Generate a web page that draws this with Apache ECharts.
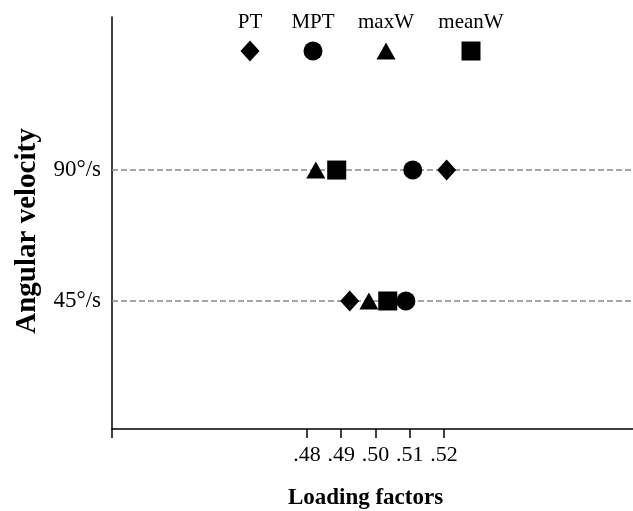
<!DOCTYPE html>
<html>
<head>
<meta charset="utf-8">
<script src="https://cdn.jsdelivr.net/npm/echarts@6/dist/echarts.min.js"></script>
<style>html,body{margin:0;padding:0;background:#fff}#c{width:633px;height:511px}</style>
</head>
<body>
<div id="c"></div>
<script>
var seriesNames = ['PT', 'MPT', 'maxW', 'meanW'];
var seriesSymbols = ['diamond', 'circle', 'triangle', 'rect'];
var velocities = [90, 45];
var velocityLabels = ['90°/s', '45°/s'];
var xTickValues = [0.48, 0.49, 0.50, 0.51, 0.52];
// loading factors at [90°/s, 45°/s]
var valsPT = [0.5208, 0.4925];
var valsMPT = [0.5109, 0.5089];
var valsMaxW = [0.4826, 0.4981];
var valsMeanW = [0.4887, 0.5036];
var allVals = [valsPT, valsMPT, valsMaxW, valsMeanW];

var FONT = 'Liberation Serif';
var xMin = 0.4231, xMax = 0.5752;
var legendCenters = [250, 313, 386, 471];
var symbolSizes = [[19, 21], 19, [19, 17], 19];

var series = seriesNames.map(function (n, i) {
  var s = {
    name: n, type: 'scatter', symbol: seriesSymbols[i], symbolSize: symbolSizes[i],
    itemStyle: { color: '#000', opacity: 1 },
    data: allVals[i].map(function (v, j) { return [v, velocities[j]]; }),
    z: 5
  };
  if (i === 0) {
    s.markLine = {
      silent: true, symbol: 'none', label: { show: false },
      lineStyle: { color: '#888', type: [6, 3], width: 1.5 },
      data: velocities.map(function (v) { return { yAxis: v }; }),
      z: 1
    };
  }
  return s;
});

var legends = seriesNames.map(function (n, i) {
  var sz = symbolSizes[i];
  var w = Array.isArray(sz) ? sz[0] : sz, h = Array.isArray(sz) ? sz[1] : sz;
  return {
    data: [{ name: n, icon: seriesSymbols[i], itemStyle: { color: '#000', opacity: 1 } }],
    left: legendCenters[i] - w / 2, top: 51 - h / 2, padding: 0,
    itemWidth: w, itemHeight: h, itemGap: 0,
    formatter: function () { return ''; },
    selectedMode: false,
    textStyle: { fontSize: 1 }
  };
});

var graphics = seriesNames.map(function (n, i) {
  return {
    type: 'text', x: legendCenters[i], y: 22,
    style: { text: n, font: '21px "' + FONT + '"', fill: '#000', align: 'center', verticalAlign: 'middle' }
  };
});

var chart = echarts.init(document.getElementById('c'), null, { renderer: 'canvas' });
chart.setOption({
  animation: false,
  backgroundColor: '#fff',
  grid: { left: 112, right: 0, top: 17, bottom: 82, containLabel: false, outerBoundsMode: 'none' },
  legend: legends,
  graphic: graphics,
  xAxis: {
    type: 'value', min: xMin, max: xMax,
    name: 'Loading factors', nameLocation: 'middle', nameGap: 58,
    nameTextStyle: { fontFamily: FONT, fontSize: 23, fontWeight: 'bold', color: '#000', padding: [0, 14, 0, 0] },
    axisLine: { show: true, lineStyle: { color: '#000', width: 1.5 } },
    axisTick: { show: true, length: 9, customValues: [xMin].concat(xTickValues), lineStyle: { color: '#000', width: 1.5 } },
    axisLabel: {
      customValues: xTickValues, margin: 15, color: '#000', fontFamily: FONT, fontSize: 22,
      formatter: function (v) { return '.' + Math.round(v * 100); }
    },
    splitLine: { show: false }
  },
  yAxis: {
    type: 'value', min: 1, max: 142.6,
    name: 'Angular velocity', nameLocation: 'middle', nameGap: 70,
    nameTextStyle: { fontFamily: FONT, fontSize: 29, fontWeight: 'bold', color: '#000', padding: [0, 16, 0, 0] },
    axisLine: { show: true, lineStyle: { color: '#000', width: 1.5 } },
    axisTick: { show: false },
    axisLabel: {
      customValues: velocities, margin: 11, color: '#000', fontFamily: FONT, fontSize: 23,
      formatter: function (v) { return velocityLabels[velocities.indexOf(v)]; }
    },
    splitLine: { show: false }
  },
  series: series
});
</script>
</body>
</html>
